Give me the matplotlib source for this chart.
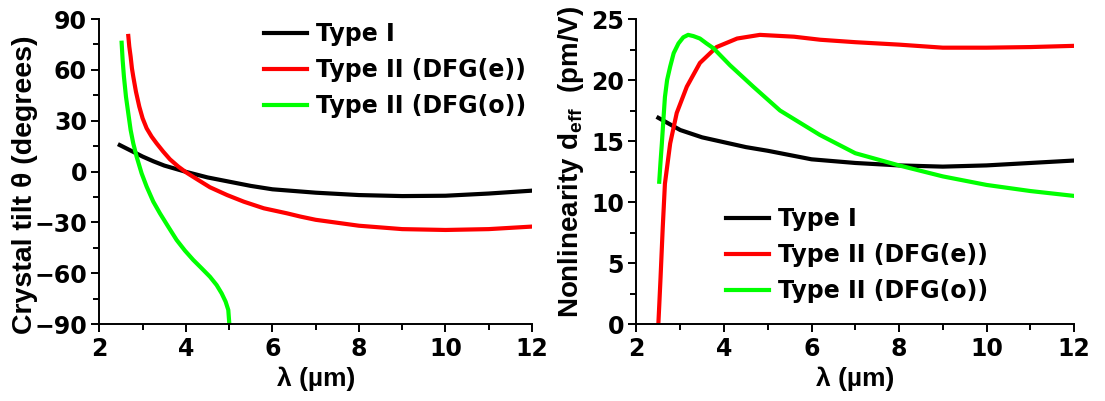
import matplotlib
matplotlib.use("Agg")
import matplotlib.pyplot as plt
from matplotlib.ticker import MultipleLocator

plt.rcParams["font.family"] = ["DejaVu Sans"]
plt.rcParams["font.weight"] = "bold"
plt.rcParams["mathtext.fontset"] = "custom"
plt.rcParams["mathtext.rm"] = "Liberation Sans:bold"

# crystal tilt angle vs wavelength
lam_t1 = [2.47, 2.75, 3, 3.25, 3.5, 4, 4.5, 5, 5.5, 6, 7, 8, 9, 10, 11, 12]
tilt_t1 = [15.6, 12, 8.8, 6, 3.5, -0.2, -3.5, -6, -8.5, -10.5, -12.5, -13.9, -14.5, -14.3, -13, -11.3]

lam_t2e = [2.667, 2.69, 2.721, 2.751, 2.782, 2.844, 2.921, 2.998, 3.091, 3.206, 3.322, 3.476,
           3.63, 3.823, 4.015, 4.258, 4.555, 4.952, 5.337, 5.799, 6.339, 6.647, 7, 8, 9, 10, 11, 12]
tilt_t2e = [80, 73.7, 67.8, 60.9, 56.0, 47.1, 38.3, 31.4, 25.5, 20.6, 16.6, 11.7,
            7.2, 2.9, -0.7, -4.6, -9.3, -13.9, -17.8, -21.7, -24.7, -26.6, -28.5, -32, -34, -34.5, -34, -32.5]

lam_t2o = [2.513, 2.536, 2.566, 2.613, 2.667, 2.721, 2.782, 2.859, 2.975, 3.091, 3.245, 3.399,
           3.591, 3.784, 3.977, 4.169, 4.362, 4.555, 4.709, 4.825, 4.917, 4.979, 5.002]
tilt_t2o = [76.0, 65.8, 56.0, 44.2, 34.3, 24.5, 16.6, 8.8, -1.1, -8.9, -17.8, -24.7,
            -32.6, -40.4, -46.7, -52.2, -57.1, -62.1, -67.0, -71.9, -76.8, -81.7, -89.6]

# effective nonlinearity vs wavelength
lam_d1 = [2.5, 3, 3.5, 4, 4.5, 5, 6, 7, 8, 9, 10, 11, 12]
deff_d1 = [16.9, 15.9, 15.3, 14.9, 14.5, 14.2, 13.5, 13.2, 13.0, 12.9, 13.0, 13.2, 13.4]

lam_d2e = [2.5, 2.52, 2.55, 2.6, 2.65, 2.77, 2.92, 3.15, 3.45, 3.83, 4.3, 4.82, 5.6, 6.2, 7, 8, 9, 10, 11, 12]
deff_d2e = [0, 1.5, 3.8, 7.9, 11.5, 14.8, 17.3, 19.45, 21.4, 22.7, 23.4, 23.7, 23.55, 23.3, 23.1, 22.9, 22.65, 22.65, 22.7, 22.8]

lam_d2o = [2.52, 2.55, 2.58, 2.62, 2.65, 2.7, 2.77, 2.85, 2.96, 3.07, 3.18, 3.3, 3.45, 3.6, 3.76,
           4.14, 4.67, 5.28, 6.19, 7, 8, 9, 10, 11, 12]
deff_d2o = [11.66, 13.3, 14.8, 17, 18.6, 20, 21.1, 22.2, 23.0, 23.5, 23.7, 23.6, 23.4, 23.0, 22.6,
            21.2, 19.45, 17.5, 15.5, 14.0, 13.0, 12.1, 11.4, 10.9, 10.5]

labels = ["Type I", "Type II (DFG(e))", "Type II (DFG(o))"]
colors = ["#000000", "#ff0000", "#00ff00"]
lw = 3.0
fs_tick = 17
lab_font = dict(family=["Liberation Sans", "DejaVu Sans"], weight="bold")


def style(ax):
    for s in ["top", "right"]:
        ax.spines[s].set_visible(False)
    for s in ["left", "bottom"]:
        ax.spines[s].set_linewidth(1.4)
    ax.set_xlim(2, 12)
    ax.xaxis.set_major_locator(MultipleLocator(2))
    ax.xaxis.set_minor_locator(MultipleLocator(1))
    ax.tick_params(which="major", direction="out", length=6, width=1.4,
                   labelsize=fs_tick, pad=3)
    ax.tick_params(which="minor", direction="out", length=4, width=1.4)
    ax.set_xlabel("λ (µm)", fontsize=19, **lab_font)
    ax.xaxis.set_label_coords(0.5, -0.14)
    ax.xaxis.label.set_va("top")


def add_legend(ax, x, y):
    ax.legend(loc="upper left", bbox_to_anchor=(x, y), frameon=False,
              prop=dict(size=fs_tick, weight="bold"), handlelength=1.82,
              handletextpad=0.38, labelspacing=0.5, borderpad=0, borderaxespad=0)


fig = plt.figure(figsize=(11.05, 4.01), dpi=100)
ax1 = fig.add_axes([0.09, 0.192, 0.3914, 0.7606])
ax2 = fig.add_axes([0.576, 0.192, 0.396, 0.7606])

ax1.plot(lam_t1, tilt_t1, color=colors[0], lw=lw, label=labels[0])
ax1.plot(lam_t2e, tilt_t2e, color=colors[1], lw=lw, label=labels[1])
ax1.plot(lam_t2o, tilt_t2o, color=colors[2], lw=lw, label=labels[2])
style(ax1)
ax1.set_ylim(-90, 90)
ax1.yaxis.set_major_locator(MultipleLocator(30))
ax1.yaxis.set_minor_locator(MultipleLocator(15))
ax1.set_ylabel("Crystal tilt θ (degrees)", fontsize=20.5, **lab_font)
ax1.yaxis.set_label_coords(-0.142, 0.456)
add_legend(ax1, 0.38, 0.989)

ax2.plot(lam_d1, deff_d1, color=colors[0], lw=lw, label=labels[0])
ax2.plot(lam_d2e, deff_d2e, color=colors[1], lw=lw, label=labels[1])
ax2.plot(lam_d2o, deff_d2o, color=colors[2], lw=lw, label=labels[2])
style(ax2)
ax2.set_ylim(0, 25)
ax2.yaxis.set_major_locator(MultipleLocator(5))
ax2.yaxis.set_minor_locator(MultipleLocator(2.5))
ax2.set_ylabel("Nonlinearity d$_{\\mathregular{eff}}$  (pm/V)", fontsize=20, **lab_font)
ax2.yaxis.set_label_coords(-0.115, 0.53)
add_legend(ax2, 0.204, 0.382)

fig.savefig("out.png", dpi=100)
